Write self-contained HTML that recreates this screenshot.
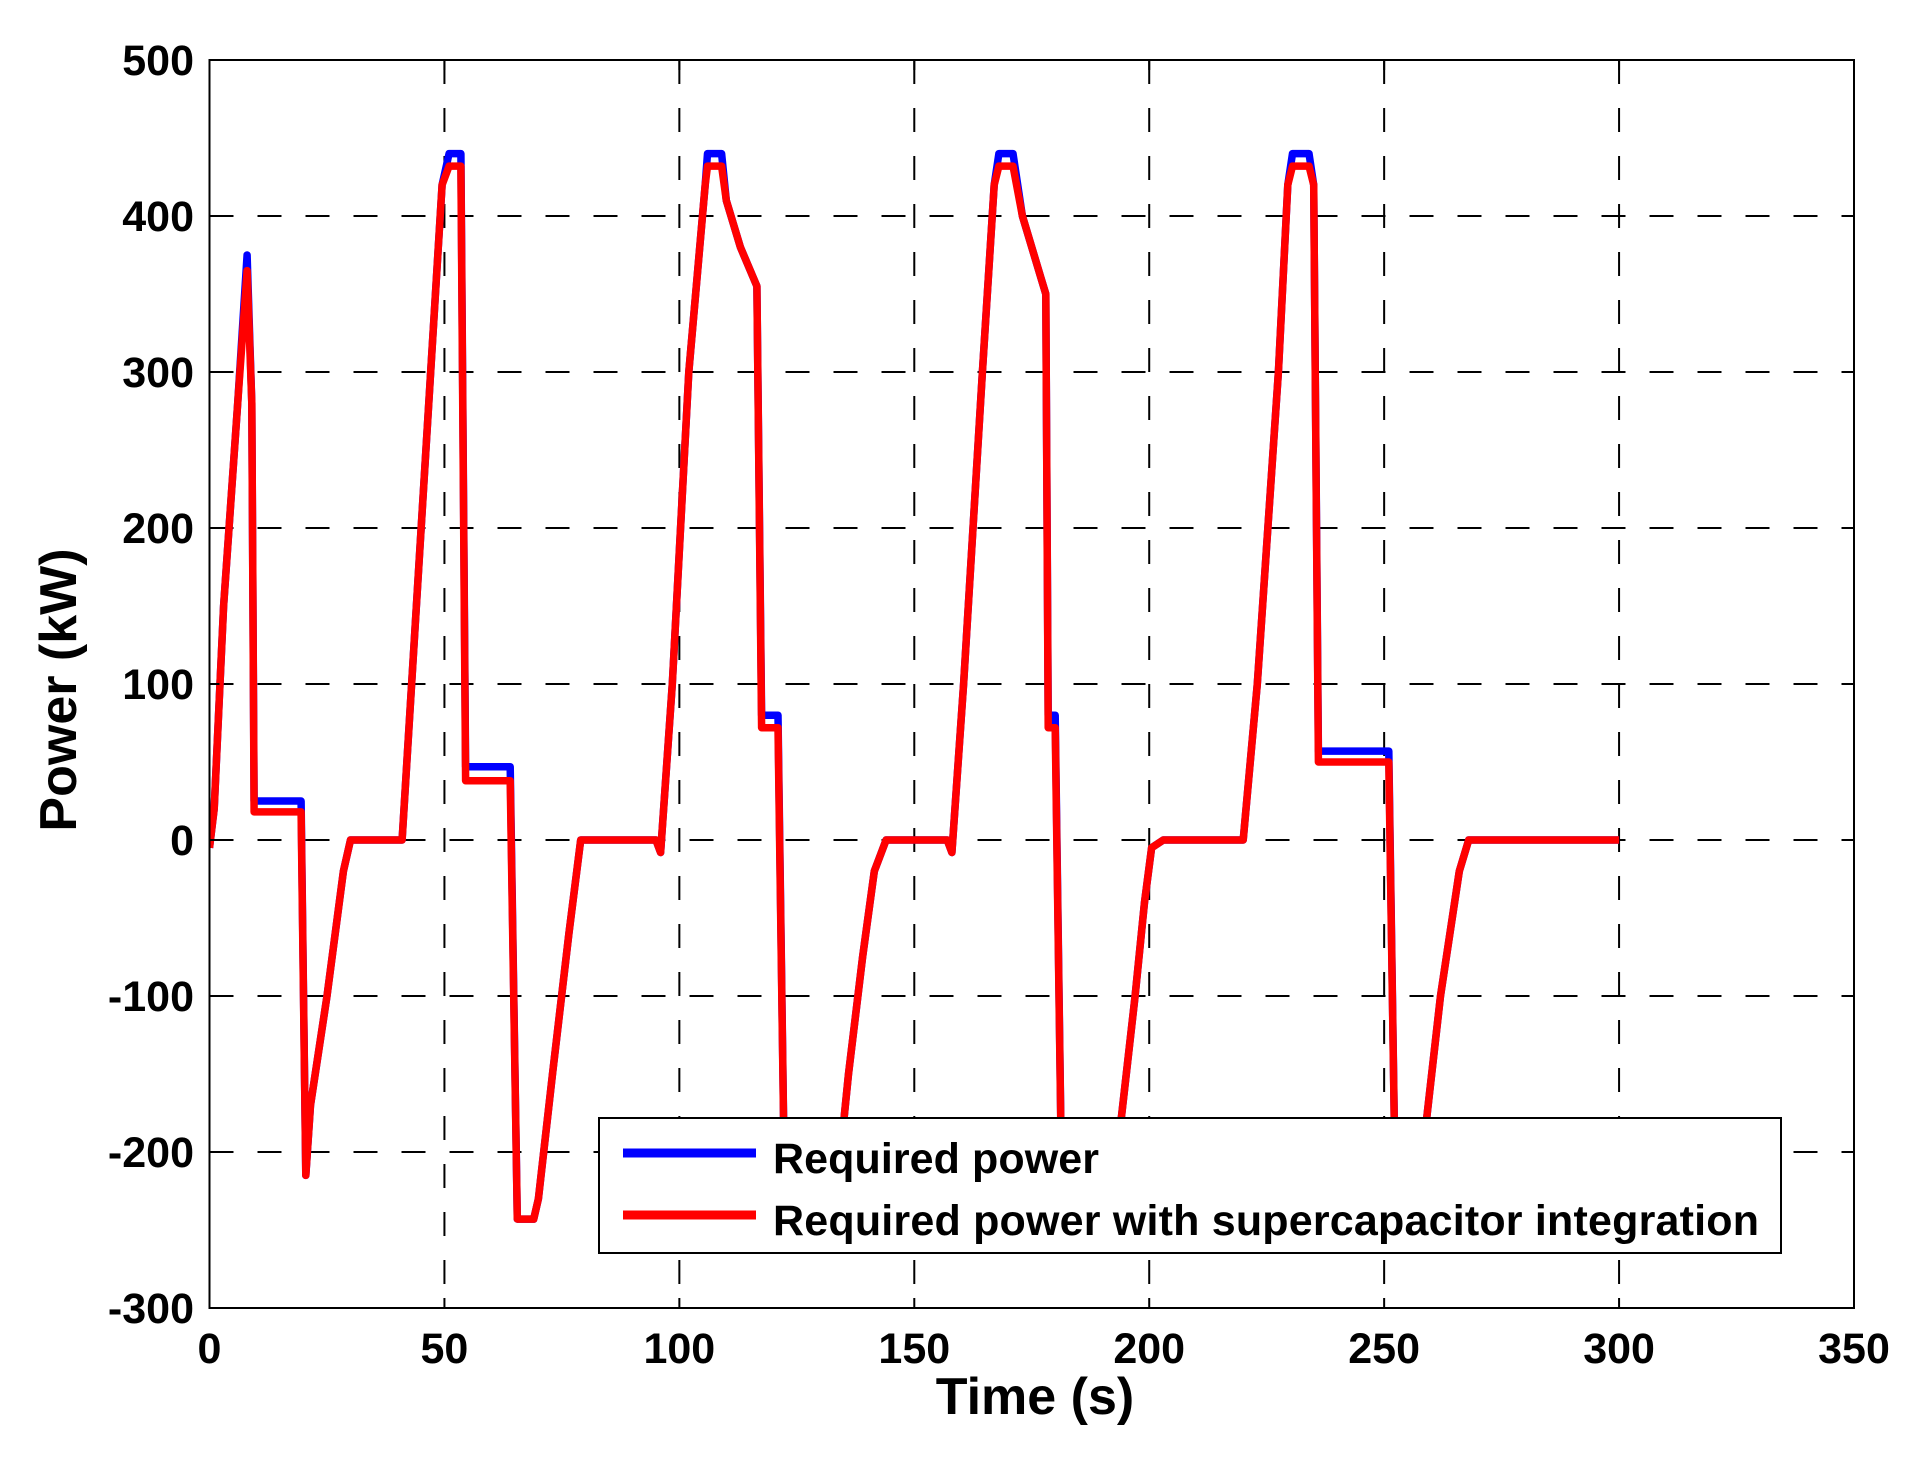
<!DOCTYPE html>
<html><head><meta charset="utf-8"><style>
body{margin:0;background:#fff}
svg{display:block}
text{font-family:"Liberation Sans",Arial,sans-serif;font-weight:bold;fill:#000}
</style></head><body>
<svg id="s" width="1913" height="1466" xmlns="http://www.w3.org/2000/svg">
<defs><clipPath id="cp"><rect x="209.5" y="60" width="1644.5" height="1248"/></clipPath></defs>
<rect width="1913" height="1466" fill="#fff"/>
<g id="grid" stroke="#000" stroke-width="2" stroke-dasharray="24,24"></g>
<g id="ser" clip-path="url(#cp)"></g>
<rect x="209.5" y="60" width="1644.5" height="1248" fill="none" stroke="#000" stroke-width="2"/>
<g id="ticks" stroke="#000" stroke-width="2"></g>
<g id="lab" font-size="43"></g>
<text x="1035" y="1414" font-size="52" text-anchor="middle">Time (s)</text>
<text transform="translate(76,690) rotate(-90)" font-size="52" text-anchor="middle">Power (kW)</text>
<rect x="599" y="1118" width="1182" height="135" fill="#fff" stroke="#000" stroke-width="2"/>
<line x1="623" y1="1153" x2="756" y2="1153" stroke="#0000ff" stroke-width="9"/>
<line x1="623" y1="1215" x2="756" y2="1215" stroke="#ff0000" stroke-width="9"/>
<text x="773" y="1173" font-size="43" textLength="326">Required power</text>
<text x="773" y="1235" font-size="43" textLength="986">Required power with supercapacitor integration</text>
</svg>
<script>
var X=t=>209.5+t*1644.5/350, Y=v=>60+(500-v)*1248/800;
var ns="http://www.w3.org/2000/svg";
function el(p,tag,a,txt){var e=document.createElementNS(ns,tag);for(var k in a)e.setAttribute(k,a[k]);if(txt)e.textContent=txt;document.getElementById(p).appendChild(e);}
for(var t=50;t<350;t+=50)el("grid","line",{x1:X(t),x2:X(t),y1:60,y2:1308});
for(var v=-200;v<=500;v+=100)el("grid","line",{x1:209.5,x2:1854,y1:Y(v),y2:Y(v)});
for(var t=0;t<=350;t+=50){el("ticks","line",{x1:X(t),x2:X(t),y1:1308,y2:1298});el("ticks","line",{x1:X(t),x2:X(t),y1:60,y2:70});
 el("lab","text",{x:X(t),y:1363,"text-anchor":"middle"},""+t);}
for(var v=-300;v<=500;v+=100){el("ticks","line",{x1:209.5,x2:219.5,y1:Y(v),y2:Y(v)});el("ticks","line",{x1:1854,x2:1844,y1:Y(v),y2:Y(v)});
 el("lab","text",{x:194,y:Y(v)+15,"text-anchor":"end"},""+v);}
function mk(a,b,c,d,e,f){return [[0,-5],[1,20],[3,150],[6,280],[8,a],[9,280],[9.5,b],[19.5,b],[20.5,-215],[21.5,-170],[25,-100],[28.5,-20],[30,0],[41,0],[49.5,420],[51,c],[53.5,c],[54.5,d],[64,d],[65.5,-243],[69,-243],[70,-230],[73,-150],[76.5,-60],[79,0],[95,0],[96,-8],[98.5,100],[102,300],[105.5,420],[106,c],[109,c],[110,410],[113,380],[116.5,355],[117.5,e],[121,e],[122.5,-250],[133.5,-250],[135,-180],[136,-150],[139,-75],[141.5,-20],[144,0],[157,0],[158,-8],[160.5,100],[164.5,300],[167,420],[168,c],[171,c],[173,400],[177,360],[178,350],[178.5,e],[180,e],[181.5,-250],[192.5,-250],[194,-180],[197,-100],[199,-40],[200.5,-5],[203,0],[220,0],[223,100],[227.5,300],[229.5,420],[230.5,c],[234,c],[235,420],[236,f],[251,f],[252.5,-250],[257.5,-250],[259,-180],[262,-100],[266,-20],[268,0],[300,0]];}
function path(d,col){el("ser","path",{d:"M"+d.map(p=>X(p[0]).toFixed(1)+","+Y(p[1]).toFixed(1)).join("L"),fill:"none",stroke:col,"stroke-width":7.5,"stroke-linejoin":"round"});}
path(mk(375,25,440,47,80,57),"#0000ff");
path(mk(365,18,432,38,72,50),"#ff0000");
</script>
</body></html>
